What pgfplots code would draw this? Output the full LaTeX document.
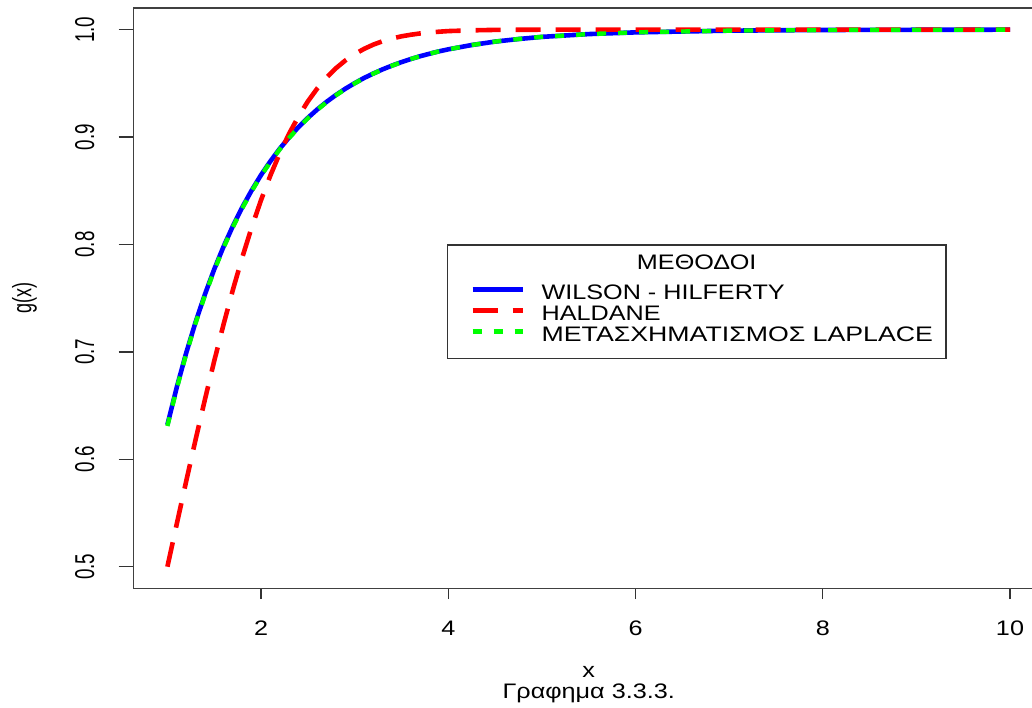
\documentclass[border=0pt]{standalone}
\usepackage{fontspec}
\setmainfont{Liberation Sans}[FakeStretch=1.2]
\newfontfamily\rotfont{Liberation Sans}
\usepackage{graphicx}
\usepackage{pgfplots}
\pgfplotsset{compat=1.18}
\usepackage{pgfplotstable}

% g(x) for the three methods
\pgfplotstableread{
x     wh      haldane laplace
1.00  0.6321  0.5000  0.6310
1.10  0.6671  0.5398  0.6660
1.20  0.6988  0.5793  0.6978
1.30  0.7275  0.6179  0.7265
1.40  0.7534  0.6554  0.7524
1.50  0.7769  0.6915  0.7759
1.60  0.7981  0.7257  0.7971
1.70  0.8173  0.7580  0.8163
1.80  0.8347  0.7881  0.8338
1.90  0.8504  0.8159  0.8496
2.00  0.8647  0.8413  0.8640
2.10  0.8775  0.8643  0.8769
2.20  0.8892  0.8849  0.8886
2.30  0.8997  0.9032  0.8992
2.40  0.9093  0.9192  0.9088
2.50  0.9179  0.9332  0.9175
2.60  0.9257  0.9452  0.9253
2.70  0.9328  0.9554  0.9325
2.80  0.9392  0.9641  0.9389
2.90  0.9450  0.9713  0.9448
3.00  0.9502  0.9772  0.9500
3.10  0.9550  0.9821  0.9549
3.20  0.9592  0.9861  0.9591
3.30  0.9631  0.9893  0.9630
3.40  0.9666  0.9918  0.9665
3.50  0.9698  0.9938  0.9697
3.60  0.9727  0.9953  0.9727
3.70  0.9753  0.9965  0.9753
3.80  0.9776  0.9974  0.9776
3.90  0.9798  0.9981  0.9798
4.00  0.9817  0.9987  0.9817
4.25  0.9857  0.9994  0.9857
4.50  0.9889  0.9998  0.9889
4.75  0.9913  0.9999  0.9913
5.00  0.9933  1.0000  0.9933
5.50  0.9959  1.0000  0.9959
6.00  0.9975  1.0000  0.9975
7.00  0.9991  1.0000  0.9991
8.00  0.9997  1.0000  0.9997
9.00  0.9999  1.0000  0.9999
10.00 1.0000  1.0000  1.0000
}\gx

\begin{document}
\begin{tikzpicture}
\useasboundingbox (0,0) rectangle (516pt,353.5pt);
\clip (0,0) rectangle (516pt,353.5pt);
\begin{axis}[
    name=ax,
    at={(66.85pt,59.4pt)}, anchor=south west,
    scale only axis, width=455pt, height=290pt,
    xmin=0.64, xmax=10.36, ymin=0.48, ymax=1.02,
    xtick={2,4,6,8,10}, xticklabels={2,4,6,8,10},
    ytick={0.5,0.6,0.7,0.8,0.9,1.0},
    yticklabels={0.5,0.6,0.7,0.8,0.9,1.0},
    tick align=outside, xtick pos=left, ytick pos=left,
    axis line style={black!75, line width=0.7pt},
    major tick length=7.5pt,
    xtick style={black!80, line width=0.7pt, /pgfplots/major tick length=5.5pt},
    ytick style={black!80, line width=0.7pt},
    /pgf/number format/assume math mode=true,
    xticklabel style={font=\fontsize{10.5}{12}\selectfont, inner sep=0pt, anchor=north},
    xticklabel shift=8.7pt,
    yticklabel style={font=\rotfont\fontsize{9.4}{11}\selectfont, inner sep=0pt,
        xscale=1.45, rotate=90, anchor=south},
    yticklabel shift=11.9pt,
    xlabel={x},
    xlabel style={font=\fontsize{10.5}{12}\selectfont, at={(axis description cs:0.5,0)},
        anchor=base, yshift=-44.4pt},
    ylabel={g(x)},
    every axis y label/.style={at={(axis description cs:0,0.5)}, anchor=center,
        xshift=-54.6pt, font=\rotfont\fontsize{9}{11}\selectfont, xscale=1.48, rotate=90},
    legend cell align=left,
    legend image code/.code={\draw[#1] (0pt,1.8pt) -- (25.3pt,1.8pt);},
    legend style={at={(rel axis cs:0.3446,0.5400)}, anchor=north west,
        draw=none, fill=none, inner xsep=11.35pt, inner ysep=4.15pt,
        column sep=8pt, row sep=1pt,
        font=\fontsize{10.5}{12}\selectfont,
        nodes={inner sep=0pt, text height=8pt}},
]
% legend frame and title
\draw[black!80, line width=0.7pt] (rel axis cs:0.3446,0.3964) rectangle (rel axis cs:0.8926,0.5917);
\node[anchor=base, font=\fontsize{10.5}{12}\selectfont] at (rel axis cs:0.6186,0.5498) {ΜΕΘΟΔΟΙ};
\addplot[blue, line width=2.3pt] table[x=x, y=wh] {\gx};
\addlegendentry{WILSON - HILFERTY}
\addplot[red, line width=2.3pt, dash pattern=on 12.5pt off 7.5pt] table[x=x, y=haldane] {\gx};
\addlegendentry{HALDANE}
\addplot[green, line width=2.2pt, dash pattern=on 4.5pt off 6pt] table[x=x, y=laplace] {\gx};
\addlegendentry{\scalebox{1.06}[1]{ΜΕΤΑΣΧΗΜΑΤΙΣΜΟΣ LAPLACE}}
\end{axis}
\node[anchor=base, font=\fontsize{10.5}{12}\selectfont] at ([yshift=-54.9pt]ax.south) {Γραφημα 3.3.3.};
\end{tikzpicture}
\end{document}
